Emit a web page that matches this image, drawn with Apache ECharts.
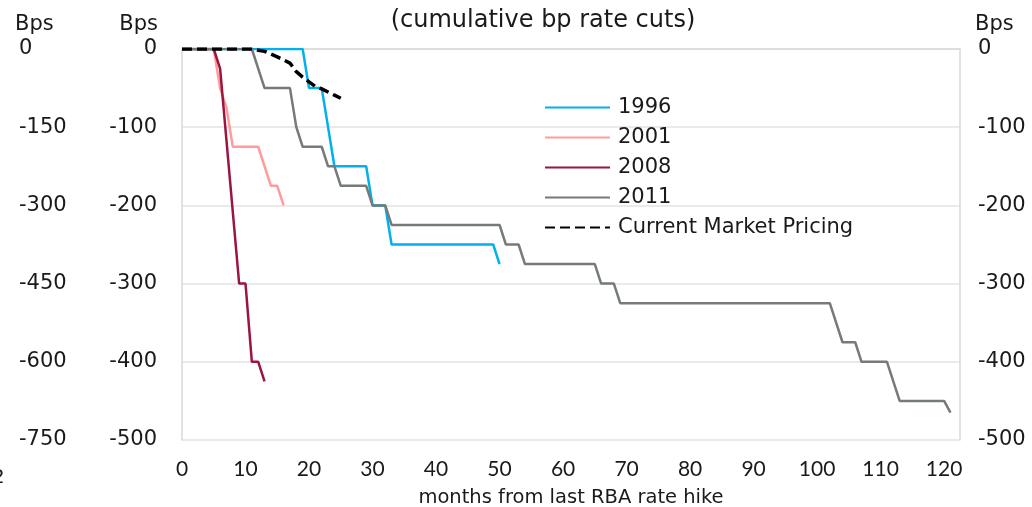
<!DOCTYPE html>
<html>
<head>
<meta charset="utf-8">
<script src="https://cdn.jsdelivr.net/npm/echarts@6/dist/echarts.min.js"></script>
<style>
  html, body { margin: 0; padding: 0; background: #fff; }
  #chart { width: 1032px; height: 507px; }
</style>
</head>
<body>
<div id="chart"></div>
<script>
  // corner points of each path, months from last hike / cumulative bp
  var months1996 = [0, 19, 20, 22, 24, 29, 30, 32, 33, 49, 50];
  var values1996 = [0, 0, -50, -50, -150, -150, -200, -200, -250, -250, -275];

  var months2001 = [0, 5, 6, 7, 8, 12, 14, 15, 16];
  var values2001 = [0, 0, -50, -75, -125, -125, -175, -175, -200];

  var months2008 = [0, 5, 6, 9, 10, 11, 12, 13];
  var values2008 = [0, 0, -25, -300, -300, -400, -400, -425];

  var months2011 = [0, 11, 13, 17, 18, 19, 22, 23, 24, 25, 29, 30, 32, 33, 50, 51, 53, 54, 65, 66, 68, 69, 102, 104, 106, 107, 111, 113, 120, 121];
  var values2011 = [0, 0, -50, -50, -100, -125, -125, -150, -150, -175, -175, -200, -200, -225, -225, -250, -250, -275, -275, -300, -300, -325, -325, -375, -375, -400, -400, -450, -450, -465];

  var monthsMarket = [0, 11, 13, 15, 17, 18, 19, 20, 21, 22, 23, 24, 25];
  var valuesMarket = [0, 0, -3, -10, -18, -29, -36, -42, -48, -51, -55, -59, -63];

  function pairs(xs, ys) {
    return xs.map(function (x, i) { return [x, ys[i]]; });
  }

  var font = '"DejaVu Sans", sans-serif';
  var narrow = 'Lato, sans-serif';
  var txt = '#1a1a1a';

  var chart = echarts.init(document.getElementById('chart'));

  var option = {
    animation: false,
    textStyle: { fontFamily: font },
    title: {
      text: '(cumulative bp rate cuts)',
      left: 538,
      top: 4,
      textAlign: 'center',
      textStyle: { fontSize: 24, fontWeight: 'normal', color: txt, fontFamily: font }
    },
    graphic: [
      { type: 'text', left: -8, top: 468, style: { text: '2', fontSize: 20, fill: txt, fontFamily: font } }
    ],
    legend: {
      orient: 'vertical',
      left: 539,
      top: 92,
      itemWidth: 65,
      itemHeight: 14,
      itemGap: 9,
      itemStyle: { opacity: 0 },
      textStyle: { fontSize: 21, lineHeight: 21, color: txt, fontFamily: font, padding: [0, 0, 0, 3] },
      data: ['1996', '2001', '2008', '2011', 'Current Market Pricing']
    },
    grid: { left: 182, right: 72, top: 49, bottom: 67, outerBoundsMode: 'none' },
    xAxis: {
      type: 'value',
      min: 0,
      max: 122.5,
      interval: 10,
      name: 'months from last RBA rate hike',
      nameLocation: 'middle',
      nameGap: 48,
      nameTextStyle: { fontSize: 19.5, color: txt, fontFamily: font },
      axisLine: { show: true, lineStyle: { color: '#d9d9d9', width: 1.5 } },
      axisTick: { show: false },
      splitLine: { show: false },
      axisLabel: {
        fontSize: 21, color: txt, margin: 19, fontFamily: narrow,
        formatter: function (v) { return v > 120 ? '' : v; }
      }
    },
    yAxis: [
      {
        type: 'value', min: -500, max: 0, interval: 100, position: 'left',
        name: 'Bps', nameLocation: 'end', nameGap: 14,
        nameTextStyle: { fontSize: 21, color: txt, fontFamily: font, align: 'right', padding: [0, 24, 0, 0] },
        axisLine: { show: true, lineStyle: { color: '#d9d9d9', width: 1.5 } },
        axisTick: { show: false },
        splitLine: { show: true, lineStyle: { color: '#e3e3e3', width: 1.5 } },
        axisLabel: { fontSize: 21, color: txt, margin: 25, fontFamily: font }
      },
      {
        type: 'value', min: -750, max: 0, interval: 150, position: 'left', offset: 167,
        name: 'Bps', nameLocation: 'end', nameGap: 14,
        nameTextStyle: { fontSize: 21, color: txt, fontFamily: font, align: 'left' },
        axisLine: { show: false },
        axisTick: { show: false },
        splitLine: { show: false },
        axisLabel: { fontSize: 21, color: txt, margin: -4, align: 'left', fontFamily: font }
      },
      {
        type: 'value', min: -500, max: 0, interval: 100, position: 'right',
        name: 'Bps', nameLocation: 'end', nameGap: 14,
        nameTextStyle: { fontSize: 21, color: txt, fontFamily: font, align: 'left', padding: [0, 0, 0, 15] },
        axisLine: { show: true, lineStyle: { color: '#d9d9d9', width: 1.5 } },
        axisTick: { show: false },
        splitLine: { show: false },
        axisLabel: { fontSize: 21, color: txt, margin: 18, fontFamily: font }
      }
    ],
    series: [
      {
        name: '1996', type: 'line', symbol: 'none', yAxisIndex: 0,
        lineStyle: { color: '#00b0f0', width: 2.5 }, itemStyle: { color: '#00b0f0' },
        data: pairs(months1996, values1996)
      },
      {
        name: '2001', type: 'line', symbol: 'none', yAxisIndex: 0,
        lineStyle: { color: '#ff9b9b', width: 2.5 }, itemStyle: { color: '#ff9b9b' },
        data: pairs(months2001, values2001)
      },
      {
        name: '2008', type: 'line', symbol: 'none', yAxisIndex: 0,
        lineStyle: { color: '#9b1540', width: 2.5 }, itemStyle: { color: '#9b1540' },
        data: pairs(months2008, values2008)
      },
      {
        name: '2011', type: 'line', symbol: 'none', yAxisIndex: 0,
        lineStyle: { color: '#747b79', width: 2.5 }, itemStyle: { color: '#747b79' },
        data: pairs(months2011, values2011)
      },
      {
        name: 'Current Market Pricing', type: 'line', symbol: 'none', yAxisIndex: 0,
        lineStyle: { color: '#000', width: 3.5, type: [10, 5] }, itemStyle: { color: '#000' },
        data: pairs(monthsMarket, valuesMarket)
      }
    ]
  };

  chart.setOption(option);
</script>
</body>
</html>
